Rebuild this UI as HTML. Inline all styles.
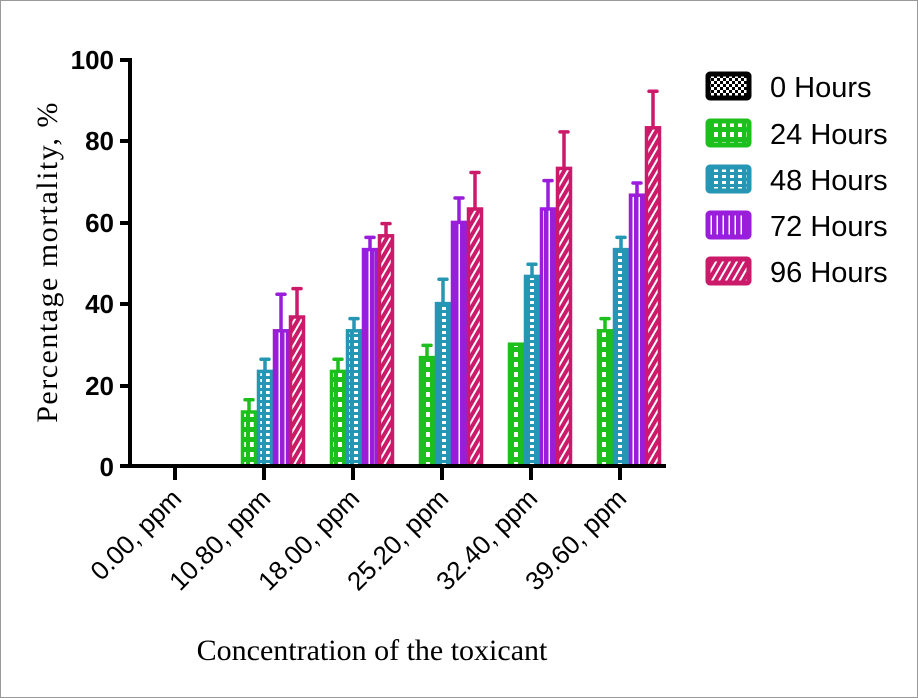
<!DOCTYPE html>
<html><head><style>
body{margin:0;background:#fff;}
svg{display:block;}
</style></head><body>
<svg width="918" height="698" viewBox="0 0 918 698" xmlns="http://www.w3.org/2000/svg">
<defs>
<pattern id="pg" width="8" height="10" patternUnits="userSpaceOnUse"><rect width="8" height="10" fill="#1dbf1d"/><rect x="2" y="2" width="4" height="5" fill="#fff"/></pattern>
<pattern id="pb" width="8" height="6" patternUnits="userSpaceOnUse"><rect width="8" height="6" fill="#2596b4"/><rect x="2" y="1" width="4" height="3" fill="#fff"/></pattern>
<pattern id="pp" width="6" height="6" patternUnits="userSpaceOnUse"><rect width="6" height="6" fill="#9a1ddb"/><rect x="2.5" y="0" width="1.5" height="6" fill="#fff"/></pattern>
<pattern id="pr" width="6" height="6" patternUnits="userSpaceOnUse" patternTransform="rotate(30)"><rect width="6" height="6" fill="#cc1a6a"/><rect x="0" y="0" width="2" height="6" fill="#fff"/></pattern>
<pattern id="pk" width="6" height="6" patternUnits="userSpaceOnUse"><rect width="6" height="6" fill="#000"/><rect width="3" height="3" fill="#fff"/><rect x="3" y="3" width="3" height="3" fill="#fff"/></pattern>
</defs>
<rect x="0.5" y="0.5" width="917" height="697" fill="#fff" stroke="#999"/>
<g font-family="Liberation Sans, sans-serif" font-weight="bold" font-size="26" text-anchor="end">
<text x="114" y="476">0</text><text x="114" y="395">20</text><text x="114" y="313">40</text><text x="114" y="232">60</text><text x="114" y="150">80</text><text x="114" y="69">100</text>
</g>
<g stroke="#000" stroke-width="4">
<line x1="130" y1="58" x2="130" y2="468"/>
<line x1="128" y1="466" x2="666" y2="466"/>
<line x1="120" y1="60" x2="130" y2="60"/><line x1="120" y1="141" x2="130" y2="141"/><line x1="120" y1="223" x2="130" y2="223"/><line x1="120" y1="304" x2="130" y2="304"/><line x1="120" y1="386" x2="130" y2="386"/><line x1="120" y1="466" x2="130" y2="466"/>
<line x1="175" y1="466" x2="175" y2="480"/><line x1="264" y1="466" x2="264" y2="480"/><line x1="353" y1="466" x2="353" y2="480"/><line x1="442" y1="466" x2="442" y2="480"/><line x1="531" y1="466" x2="531" y2="480"/><line x1="620" y1="466" x2="620" y2="480"/>
</g>
<g stroke-width="3.5">
<g stroke="#1dbf1d"><path d="M249 412V399.8M245 399.8H253" stroke-linecap="round"/><rect x="242.5" y="412" width="13" height="54" fill="url(#pg)"/></g>
<g stroke="#2596b4"><path d="M265 371.4V359.2M261 359.2H269" stroke-linecap="round"/><rect x="258.5" y="371.4" width="13" height="94.6" fill="url(#pb)"/></g>
<g stroke="#9a1ddb"><path d="M281 330.8V294.3M277 294.3H285" stroke-linecap="round"/><rect x="274.5" y="330.8" width="13" height="135.2" fill="url(#pp)"/></g>
<g stroke="#cc1a6a"><path d="M297 317V288.6M293 288.6H301" stroke-linecap="round"/><rect x="290.5" y="317" width="13" height="149" fill="url(#pr)"/></g>
<g stroke="#1dbf1d"><path d="M338 371.4V359.2M334 359.2H342" stroke-linecap="round"/><rect x="331.5" y="371.4" width="13" height="94.6" fill="url(#pg)"/></g>
<g stroke="#2596b4"><path d="M354 330.8V318.6M350 318.6H358" stroke-linecap="round"/><rect x="347.5" y="330.8" width="13" height="135.2" fill="url(#pb)"/></g>
<g stroke="#9a1ddb"><path d="M370 249.6V237.4M366 237.4H374" stroke-linecap="round"/><rect x="363.5" y="249.6" width="13" height="216.4" fill="url(#pp)"/></g>
<g stroke="#cc1a6a"><path d="M386 235.8V223.6M382 223.6H390" stroke-linecap="round"/><rect x="379.5" y="235.8" width="13" height="230.2" fill="url(#pr)"/></g>
<g stroke="#1dbf1d"><path d="M427 357.6V345.4M423 345.4H431" stroke-linecap="round"/><rect x="420.5" y="357.6" width="13" height="108.4" fill="url(#pg)"/></g>
<g stroke="#2596b4"><path d="M443 303.6V279.2M439 279.2H447" stroke-linecap="round"/><rect x="436.5" y="303.6" width="13" height="162.4" fill="url(#pb)"/></g>
<g stroke="#9a1ddb"><path d="M459 222.4V198M455 198H463" stroke-linecap="round"/><rect x="452.5" y="222.4" width="13" height="243.6" fill="url(#pp)"/></g>
<g stroke="#cc1a6a"><path d="M475 209V172.5M471 172.5H479" stroke-linecap="round"/><rect x="468.5" y="209" width="13" height="257" fill="url(#pr)"/></g>
<g stroke="#1dbf1d"><path d="M512 344.2H520" stroke-linecap="round"/><rect x="509.5" y="344.2" width="13" height="121.8" fill="url(#pg)"/></g>
<g stroke="#2596b4"><path d="M532 276.4V264.2M528 264.2H536" stroke-linecap="round"/><rect x="525.5" y="276.4" width="13" height="189.6" fill="url(#pb)"/></g>
<g stroke="#9a1ddb"><path d="M548 209V180.6M544 180.6H552" stroke-linecap="round"/><rect x="541.5" y="209" width="13" height="257" fill="url(#pp)"/></g>
<g stroke="#cc1a6a"><path d="M564 168.4V131.9M560 131.9H568" stroke-linecap="round"/><rect x="557.5" y="168.4" width="13" height="297.6" fill="url(#pr)"/></g>
<g stroke="#1dbf1d"><path d="M605 330.8V318.6M601 318.6H609" stroke-linecap="round"/><rect x="598.5" y="330.8" width="13" height="135.2" fill="url(#pg)"/></g>
<g stroke="#2596b4"><path d="M621 249.6V237.4M617 237.4H625" stroke-linecap="round"/><rect x="614.5" y="249.6" width="13" height="216.4" fill="url(#pb)"/></g>
<g stroke="#9a1ddb"><path d="M637 195.2V183M633 183H641" stroke-linecap="round"/><rect x="630.5" y="195.2" width="13" height="270.8" fill="url(#pp)"/></g>
<g stroke="#cc1a6a"><path d="M653 127.8V91.3M649 91.3H657" stroke-linecap="round"/><rect x="646.5" y="127.8" width="13" height="338.2" fill="url(#pr)"/></g>
</g>
<line x1="128" y1="466" x2="666" y2="466" stroke="#000" stroke-width="4"/>
<g font-family="Liberation Sans, sans-serif" font-size="26" text-anchor="end">
<text transform="translate(183,500) rotate(-45)">0.00, ppm</text>
<text transform="translate(272,500) rotate(-45)">10.80, ppm</text>
<text transform="translate(361,500) rotate(-45)">18.00, ppm</text>
<text transform="translate(450,500) rotate(-45)">25.20, ppm</text>
<text transform="translate(539,500) rotate(-45)">32.40, ppm</text>
<text transform="translate(628,500) rotate(-45)">39.60, ppm</text>
</g>
<text x="372" y="660" font-family="Liberation Serif, serif" font-size="30" text-anchor="middle">Concentration of the toxicant</text>
<text transform="translate(57,262) rotate(-90)" font-family="Liberation Serif, serif" font-size="30" text-anchor="middle" letter-spacing="1.5">Percentage mortality, %</text>
<g font-family="Liberation Sans, sans-serif" font-size="29">
<rect x="708" y="74" width="41" height="24" rx="2" fill="url(#pk)" stroke="#000" stroke-width="5"/><text x="770" y="97">0 Hours</text>
<rect x="708" y="121" width="41" height="24" rx="2" fill="url(#pg)" stroke="#1dbf1d" stroke-width="5"/><text x="770" y="144">24 Hours</text>
<rect x="708" y="167" width="41" height="24" rx="2" fill="url(#pb)" stroke="#2596b4" stroke-width="5"/><text x="770" y="190">48 Hours</text>
<rect x="708" y="213" width="41" height="24" rx="2" fill="url(#pp)" stroke="#9a1ddb" stroke-width="5"/><text x="770" y="236">72 Hours</text>
<rect x="708" y="259" width="41" height="24" rx="2" fill="url(#pr)" stroke="#cc1a6a" stroke-width="5"/><text x="770" y="282">96 Hours</text>
</g>
</svg>
</body></html>
